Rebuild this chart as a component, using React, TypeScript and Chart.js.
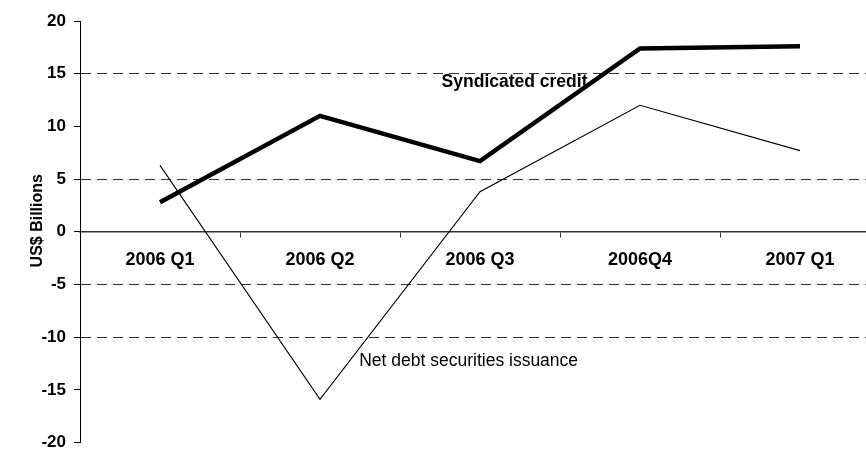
import React, { useEffect, useRef } from "react";
import { Chart, registerables } from "chart.js";

Chart.register(...registerables);

const categories = ["2006 Q1", "2006 Q2", "2006 Q3", "2006Q4", "2007 Q1"];
const syndicatedCredit = [2.8, 11.0, 6.7, 17.4, 17.6];
const netDebtSecurities = [6.3, -15.9, 3.8, 12.0, 7.7];
const dashedGridValues = [15, 5, -5, -10];
const seriesNames = ["Syndicated credit", "Net debt securities issuance"];
const yAxisTitle = "US$ Billions";

const FONT = '"Liberation Sans", Arial, sans-serif';

const inlineText = {
  id: "inlineText",
  beforeDatasetsDraw(chart: any) {
    const { ctx, scales, chartArea } = chart;
    const x = scales.x;
    const y = scales.y;
    ctx.save();
    ctx.fillStyle = "#000";
    ctx.textBaseline = "middle";
    ctx.textAlign = "left";
    ctx.font = `bold 17.5px ${FONT}`;
    ctx.fillText(seriesNames[0], x.getPixelForValue(1.76), y.getPixelForValue(14.2));
    ctx.font = `17.5px ${FONT}`;
    ctx.fillText(seriesNames[1], x.getPixelForValue(1.245), y.getPixelForValue(-12.3));
    ctx.translate(38, (chartArea.top + chartArea.bottom) / 2 - 11);
    ctx.rotate(-Math.PI / 2);
    ctx.textAlign = "center";
    ctx.font = `bold 16px ${FONT}`;
    ctx.fillText(yAxisTitle, 0, 0);
    ctx.restore();
  },
};

export default function App() {
  const canvasRef = useRef<HTMLCanvasElement | null>(null);

  useEffect(() => {
    if (!canvasRef.current) return;
    const chart = new Chart(canvasRef.current, {
      type: "line",
      data: {
        labels: categories,
        datasets: [
          {
            label: seriesNames[0],
            data: syndicatedCredit,
            borderColor: "#000",
            borderWidth: 4.5,
            pointRadius: 0,
            tension: 0,
            fill: false,
          },
          {
            label: seriesNames[1],
            data: netDebtSecurities,
            borderColor: "#000",
            borderWidth: 1.1,
            pointRadius: 0,
            tension: 0,
            fill: false,
          },
        ],
      },
      options: {
        animation: false,
        responsive: false,
        devicePixelRatio: 1,
        layout: { padding: { left: 0, right: 10, top: 21, bottom: 7 } },
        plugins: {
          legend: { display: false },
          tooltip: { enabled: false },
          title: { display: false },
        },
        scales: {
          x: {
            type: "category",
            offset: true,
            position: { y: 0 } as any,
            grid: {
              display: true,
              drawOnChartArea: false,
              drawTicks: true,
              tickLength: 5,
              offset: true,
              color: "#333",
              tickColor: "#333",
            },
            border: { display: true, color: "#333", width: 1.5 },
            ticks: {
              color: "#000",
              padding: 12,
              maxRotation: 0,
              autoSkip: false,
              font: { family: FONT, size: 18, weight: "bold" },
            },
          },
          y: {
            min: -20,
            max: 20,
            afterFit: (scale: any) => {
              scale.width = 80;
            },
            ticks: {
              stepSize: 5,
              color: "#000",
              padding: 8,
              font: { family: FONT, size: 17, weight: "bold", lineHeight: 1 },
            },
            grid: {
              display: true,
              drawOnChartArea: true,
              drawTicks: true,
              tickLength: 6,
              lineWidth: 1,
              color: (ctx: any) =>
                ctx.tick && dashedGridValues.includes(ctx.tick.value) ? "#333" : "rgba(0,0,0,0)",
              tickColor: "#000",
              tickBorderDash: [],
            },
            border: { display: true, color: "#000", width: 1, dash: [10, 6] },
          },
        },
      },
      plugins: [inlineText],
    });
    return () => chart.destroy();
  }, []);

  return (
    <div
      style={{
        position: "fixed",
        left: 0,
        top: 0,
        width: 866,
        height: 450,
        overflow: "hidden",
        background: "#fff",
      }}
    >
      <canvas ref={canvasRef} width={890} height={459} style={{ display: "block" }} />
    </div>
  );
}
